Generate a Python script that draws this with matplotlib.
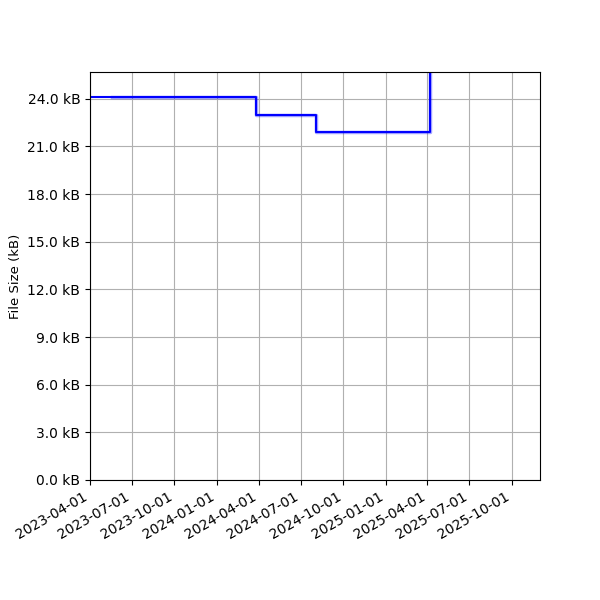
import numpy as np
import matplotlib
import matplotlib.pyplot as plt
import matplotlib.dates as mdates
from matplotlib.ticker import FuncFormatter, MultipleLocator

matplotlib.use("Agg")

# size history (kB) - step changes
dates = np.array(['2023-04-01', '2024-03-26', '2024-08-03', '2025-04-07', '2025-04-20'],
                 dtype='datetime64[D]')
sizes = [24.08, 22.95, 21.88, 30.0, 30.0]

# second (overlapping) record starting later
dates2 = np.array(['2023-05-19', '2024-03-26', '2024-08-03', '2025-04-07', '2025-04-20'],
                  dtype='datetime64[D]')
sizes2 = [24.08, 22.95, 21.88, 30.0, 30.0]

fig, ax = plt.subplots(figsize=(6, 6), dpi=100)
ax.step(dates2, sizes2, where='post', color='blue', lw=2.5, alpha=0.35)
ax.step(dates, sizes, where='post', color='blue', lw=1.5)

ax.set_xlim(np.datetime64('2023-04-01'), np.datetime64('2025-12-01'))
ax.set_ylim(0, 25.68)
ax.yaxis.set_major_locator(MultipleLocator(3))
ax.yaxis.set_major_formatter(FuncFormatter(lambda v, p: '%.1f kB' % v))
ax.xaxis.set_major_locator(mdates.MonthLocator(bymonth=[1, 4, 7, 10]))
ax.xaxis.set_major_formatter(mdates.DateFormatter('%Y-%m-%d'))
ax.set_ylabel('File Size (kB)', fontsize=9.5)
ax.grid(True)
fig.autofmt_xdate()
fig.subplots_adjust(left=0.15, right=0.9, top=0.88, bottom=0.2)
fig.savefig('out.png')
